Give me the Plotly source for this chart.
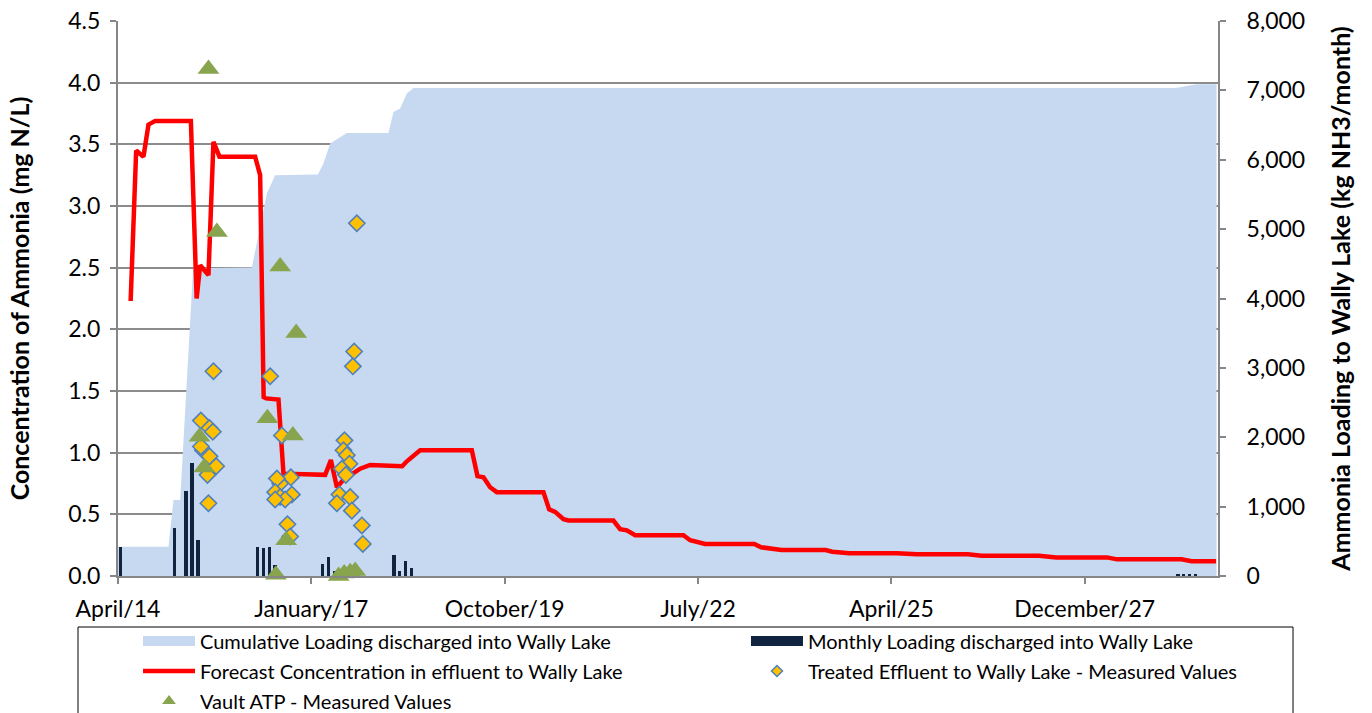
import plotly.graph_objects as go

# ---------------- data ----------------
# x values are month indices counted from April 2014 (category positions)
tick_positions = [-0.45, 32.1, 64.65, 97.2, 129.75, 162.3]
tick_labels = ["April/14", "January/17", "October/19", "July/22", "April/25", "December/27"]

# Cumulative loading (kg NH3) - vertices of the area outline
cum_x = [-0.45, 8.05, 8.89, 10.02, 12.2, 22.09, 24.61, 26.01, 33.2, 34.14, 35.27, 38.08,
         45.08, 45.93, 47.05, 48.18, 49.29, 177.6, 181.2, 184.5]
cum_y = [422, 422, 1095, 1095, 4437, 4447, 5514, 5777, 5787, 5946, 6234, 6387,
         6387, 6689, 6738, 6954, 7035, 7035, 7088, 7088]

# Monthly loading (kg NH3/month)
monthly_x = [0, 9, 11, 12, 13, 23, 24, 25, 26, 34, 35, 36, 46, 47, 48, 49, 178, 179, 180, 181]
monthly_y = [422, 687, 1229, 1633, 519, 422, 398, 422, 158, 173, 279, 72, 298, 72, 216, 111,
             30, 20, 30, 20]

# Forecast concentration (mg N/L)
forecast_x = [1.68, 2.61, 3.84, 4.68, 5.81, 11.82, 12.79, 13.38, 14.78, 15.62, 16.63, 22.64,
              23.48, 24.07, 24.49, 26.57, 27.41, 34.43, 35.39, 36.40, 37.51, 40.32, 42.0,
              47.39, 48.18, 50.42, 51.26, 59.12, 60.07, 61.08, 62.2, 63.33, 71.18, 72.14,
              73.15, 74.55, 75.39, 82.96, 84.09, 85.22, 86.62, 94.75, 95.88, 97.0, 98.4,
              106.68, 107.83, 111.26, 118.67, 119.81, 122.68, 130.66, 134.09, 142.64,
              144.93, 154.63, 157.49, 166.04, 167.76, 178.6, 180.3, 184.43]
forecast_y = [2.23, 3.45, 3.40, 3.66, 3.69, 3.69, 2.25, 2.52, 2.44, 3.52, 3.40, 3.40,
              3.25, 1.45, 1.44, 1.43, 0.83, 0.82, 0.94, 0.72, 0.78, 0.87, 0.90,
              0.89, 0.93, 1.02, 1.02, 1.02, 0.81, 0.80, 0.72, 0.68, 0.68, 0.54,
              0.52, 0.46, 0.45, 0.45, 0.38, 0.37, 0.33, 0.33, 0.29, 0.28, 0.26,
              0.26, 0.233, 0.21, 0.21, 0.197, 0.184, 0.184, 0.176, 0.176,
              0.165, 0.165, 0.151, 0.151, 0.135, 0.135, 0.12, 0.12]

# Treated effluent measured values (mg N/L)
treated_x = [15.62, 13.5, 14.95, 15.52, 13.84, 14.95, 16.08, 14.61, 14.78, 13.5,
             25.17, 27.14, 28.65, 26.85, 26.3, 26.01, 26.85, 28.82, 27.69, 28.08, 28.54, 26.01,
             39.31, 39.09, 37.68, 37.51, 38.08, 38.52, 37.24, 37.91, 36.84, 36.4, 38.64, 38.92,
             40.61, 40.77, 39.76]
treated_y = [1.66, 1.26, 1.20, 1.17, 1.02, 0.97, 0.89, 0.82, 0.59, 1.05,
             1.62, 1.14, 0.80, 0.75, 0.79, 0.68, 0.64, 0.66, 0.62, 0.42, 0.32, 0.62,
             1.82, 1.70, 1.10, 1.02, 0.98, 0.91, 0.87, 0.82, 0.66, 0.59, 0.64, 0.53,
             0.41, 0.26, 2.86]

# Vault ATP measured values (mg N/L)
vault_x = [14.78, 16.2, 26.85, 24.71, 28.99, 13.27, 14.06, 27.86, 29.55, 26.13, 36.7, 37.63, 38.64, 39.48]
vault_y = [4.11, 2.79, 2.51, 1.28, 1.14, 1.13, 0.88, 0.29, 1.97, 0.01, 0.0, 0.02, 0.03, 0.04]

names = ["Cumulative Loading discharged into Wally Lake",
         "Monthly Loading discharged into Wally Lake",
         "Forecast Concentration in effluent to Wally Lake",
         "Treated Effluent to Wally Lake - Measured Values",
         "Vault ATP - Measured Values"]

# ---------------- styles ----------------
FONT = "Lato, 'Open Sans', sans-serif"
GRAY = "#868686"
C_AREA = "#C6D9F0"
C_BAR = "#10243F"
C_LINE = "#FF0000"
C_DIA = "#FFC000"
C_DIA_EDGE = "#4F81BD"
C_TRI = "#88A44E"

fig = go.Figure()
# area (kg, right axis)
fig.add_trace(go.Scatter(x=cum_x, y=cum_y, mode="lines", fill="tozeroy",
                         fillcolor=C_AREA, line=dict(width=0, color=C_AREA),
                         name=names[0], showlegend=False, xaxis="x", yaxis="y"))
# monthly bars (kg, same scale, overlay so they sit above the area)
fig.add_trace(go.Bar(x=monthly_x, y=monthly_y, width=0.55,
                     marker=dict(color=C_BAR, line=dict(width=0)),
                     name=names[1], showlegend=False, xaxis="x", yaxis="y2"))
# concentration series (mg N/L, left axis)
fig.add_trace(go.Scatter(x=forecast_x, y=forecast_y, mode="lines",
                         line=dict(color=C_LINE, width=4.5),
                         name=names[2], showlegend=False, xaxis="x", yaxis="y3"))
fig.add_trace(go.Scatter(x=treated_x, y=treated_y, mode="markers", cliponaxis=False,
                         marker=dict(symbol="diamond", size=12.5, color=C_DIA,
                                     line=dict(color=C_DIA_EDGE, width=1.6)),
                         name=names[3], showlegend=False, xaxis="x", yaxis="y3"))
fig.add_trace(go.Scatter(x=vault_x, y=vault_y, mode="markers", cliponaxis=False,
                         marker=dict(symbol="triangle-up", size=19, color=C_TRI,
                                     line=dict(width=0)),
                         name=names[4], showlegend=False, xaxis="x", yaxis="y3"))

# legend entries (two columns)
def legend_entry(name, legend, group, **kw):
    fig.add_trace(go.Scatter(x=[None], y=[None], name=name, legend=legend,
                             legendgroup=group, showlegend=True, xaxis="x", yaxis="y3", **kw))

legend_entry(names[0], "legend", "a", mode="lines", line=dict(color=C_AREA, width=10))
legend_entry(names[2], "legend", "b", mode="lines", line=dict(color=C_LINE, width=4.5))
legend_entry(names[4], "legend", "c", mode="markers",
             marker=dict(symbol="triangle-up", size=12, color=C_TRI, line=dict(width=0)))
legend_entry(names[1], "legend2", "d", mode="lines", line=dict(color=C_BAR, width=10))
legend_entry(names[3], "legend2", "e", mode="markers",
             marker=dict(symbol="diamond", size=8.5, color=C_DIA,
                         line=dict(color=C_DIA_EDGE, width=1.5)))

legend_common = dict(orientation="v", yanchor="top", xanchor="left", y=-0.082,
                     borderwidth=0, bgcolor="rgba(0,0,0,0)",
                     font=dict(family=FONT, size=20, color="black"),
                     itemwidth=52, itemsizing="trace", tracegroupgap=1,
                     traceorder="grouped")

axis_common = dict(ticks="outside", ticklen=6, tickwidth=1.5, tickcolor=GRAY,
                   showline=True, linecolor=GRAY, linewidth=2, zeroline=False,
                   tickfont=dict(size=23))

fig.update_layout(
    width=1372, height=713,
    margin=dict(l=118, r=154, t=21, b=137, autoexpand=False),
    paper_bgcolor="white", plot_bgcolor="white",
    font=dict(family=FONT, color="black", size=20),
    bargap=0,
    showlegend=True,
    legend=dict(x=0.0182, **legend_common),
    legend2=dict(x=0.5709, **legend_common),
    xaxis=dict(range=[-0.45, 184.75], tickmode="array", tickvals=tick_positions,
               ticktext=tick_labels, showgrid=False, ticklabelstandoff=5, **axis_common),
    yaxis=dict(side="right", range=[0, 8000], dtick=1000, tick0=0, tickformat=",.0f",
               showgrid=False, ticklabelstandoff=16,
               title=dict(text="Ammonia Loading to Wally Lake (kg NH3/month)",
                          font=dict(size=25, weight="bold"), standoff=28),
               **axis_common),
    yaxis2=dict(overlaying="y", side="right", range=[0, 8000], visible=False),
    yaxis3=dict(overlaying="y", side="left", range=[0, 4.5], dtick=0.5, tick0=0,
                tickformat=".1f", showgrid=True, gridcolor="#8C8C8C", gridwidth=1.5,
                ticklabelstandoff=5,
                title=dict(text="Concentration of Ammonia (mg N/L)",
                           font=dict(size=25, weight="bold"), standoff=32),
                **axis_common),
    shapes=[dict(type="rect", xref="paper", yref="paper",
                 x0=-0.03636, x1=1.0682, y0=-0.0919, y1=-0.34,
                 line=dict(color="black", width=1), fillcolor="rgba(0,0,0,0)",
                 layer="above")],
)

fig.write_html("out.html", config={"displayModeBar": False},
               post_script="document.body.style.margin='0';document.body.style.padding='0';")
